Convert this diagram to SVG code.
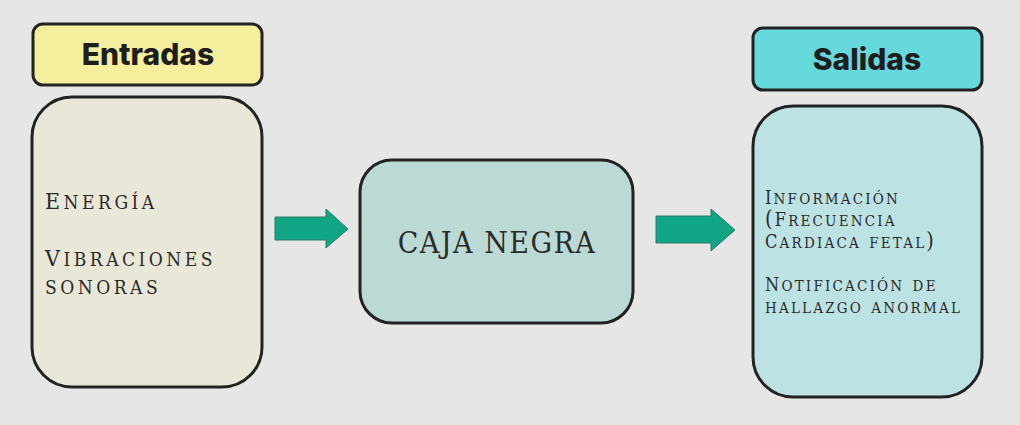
<svg xmlns="http://www.w3.org/2000/svg" width="1020" height="425" viewBox="0 0 1020 425">
<style>
.box{stroke:#222;stroke-width:3}
.hdr{font-family:Inter,"Open Sans",sans-serif;font-weight:800;font-size:30px;fill:#1e1e1e;text-anchor:middle}
.body{font-family:"DejaVu Serif","Liberation Serif",serif;font-variant:small-caps;fill:#2a2a2a;font-stretch:condensed}
.arrow{fill:#0fa585;stroke:#2f7a6a;stroke-width:1}
.l .c{font-size:23px}
.r .c{font-size:18px}
</style>
<rect width="1020" height="425" fill="#e6e6e6"/>
<g id="entradas-header">
<rect class="box" x="33" y="24" width="229" height="61" rx="10" fill="#f5ee9c"/>
<text class="hdr" x="148" y="65">Entradas</text>
</g>
<g id="entradas">
<rect class="box" x="32" y="97" width="230" height="290" rx="40" fill="#e8e7d8"/>
<g class="body l" font-size="27" letter-spacing="3.5">
<text x="45" y="209"><tspan class="c">E</tspan>nergía</text>
<text x="45" y="266"><tspan class="c">V</tspan>ibraciones</text>
<text x="45" y="294">sonoras</text>
</g>
</g>
<g id="caja-negra">
<rect class="box" x="360" y="160" width="273" height="163" rx="32" fill="#bcdad5"/>
<text class="body" font-size="30" letter-spacing="1.5" x="497" y="253" text-anchor="middle">CAJA NEGRA</text>
</g>
<g id="salidas-header">
<rect class="box" x="753" y="28" width="229" height="62" rx="10" fill="#66d9dc"/>
<text class="hdr" x="867" y="70">Salidas</text>
</g>
<g id="salidas">
<rect class="box" x="753" y="106" width="229" height="291" rx="40" fill="#bde2e3"/>
<g class="body r" font-size="21.5" letter-spacing="2.2">
<text x="765" y="204"><tspan class="c">I</tspan>nformación</text>
<text x="765" y="226">(<tspan class="c">F</tspan>recuencia</text>
<text x="765" y="248"><tspan class="c">C</tspan>ardiaca fetal)</text>
<text x="765" y="291"><tspan class="c">N</tspan>otificación de</text>
<text x="765" y="313">hallazgo anormal</text>
</g>
</g>
<g id="connectors">
<polygon class="arrow" points="275,217 326,217 326,209 348,229 326,248 326,240 275,240"/>
<polygon class="arrow" points="656,216 711,216 711,209 735,230 711,251 711,243 656,243"/>
</g>
</svg>
